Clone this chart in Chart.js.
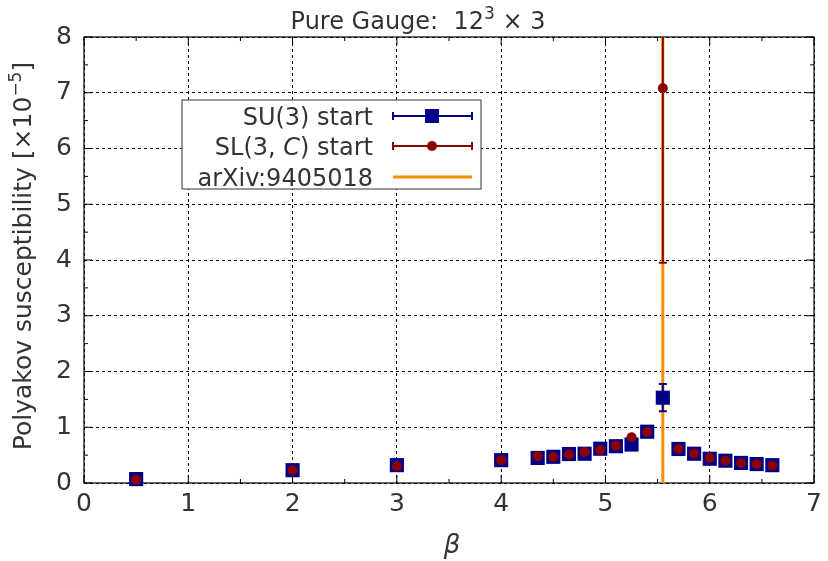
<!DOCTYPE html>
<html>
<head>
<meta charset="utf-8">
<script src="https://cdn.jsdelivr.net/npm/chart.js@4/dist/chart.umd.min.js"></script>
<style>
  html, body { margin: 0; padding: 0; background: #fff; }
  #wrap { width: 828px; height: 561px; }
</style>
</head>
<body>
<div id="wrap"><canvas id="chart" width="828" height="561"></canvas></div>
<script>
// valores
const beta = [0.5, 2, 3, 4, 4.35, 4.5, 4.65, 4.8, 4.95, 5.1, 5.25, 5.4, 5.55, 5.7, 5.85, 6.0, 6.15, 6.3, 6.45, 6.6];
const chiSU3 = [0.07, 0.23, 0.32, 0.41, 0.45, 0.47, 0.52, 0.525, 0.615, 0.66, 0.69, 0.92, 1.53, 0.61, 0.525, 0.435, 0.40, 0.36, 0.34, 0.32];
const errSU3 = [0.01, 0.01, 0.01, 0.01, 0.01, 0.01, 0.01, 0.01, 0.02, 0.02, 0.02, 0.03, 0.245, 0.02, 0.01, 0.01, 0.01, 0.01, 0.01, 0.01];
const chiSL3 = [0.06, 0.23, 0.30, 0.41, 0.48, 0.465, 0.51, 0.555, 0.59, 0.67, 0.82, 0.915, 7.08, 0.61, 0.53, 0.45, 0.40, 0.36, 0.34, 0.31];
const errSL3 = [0.01, 0.01, 0.01, 0.01, 0.01, 0.01, 0.01, 0.01, 0.02, 0.02, 0.02, 0.03, 3.13, 0.02, 0.01, 0.01, 0.01, 0.01, 0.01, 0.01];
const betaCrit = [5.55, 5.55];
const critLine = [0, 8];
const xTicks = [0, 1, 2, 3, 4, 5, 6, 7];
const yTicks = [0, 1, 2, 3, 4, 5, 6, 7, 8];

const FONT = '"DejaVu Sans", sans-serif';
const TXT = '#333';
const BLUE = '#00008b';
const RED = '#8b0000';
const ORANGE = '#ff8c00';

// texto con trozos (superíndices, cursivas)
function richText(ctx, parts, x, y, align) {
  let w = 0;
  parts.forEach(p => { ctx.font = p.font; w += ctx.measureText(p.t).width; });
  let cx = align === 'right' ? x - w : align === 'center' ? x - w / 2 : x;
  ctx.textBaseline = 'alphabetic';
  ctx.textAlign = 'left';
  parts.forEach(p => {
    ctx.font = p.font;
    ctx.fillText(p.t, cx, y + (p.dy || 0));
    cx += ctx.measureText(p.t).width;
  });
}

const frameAndTicks = {
  id: 'frameAndTicks',
  beforeDatasetsDraw(chart) {
    const { ctx, chartArea: a, scales: { x, y } } = chart;
    ctx.save();
    ctx.strokeStyle = '#000';
    ctx.lineWidth = 1.2;
    ctx.strokeRect(a.left, a.top, a.right - a.left, a.bottom - a.top);
    ctx.lineWidth = 1;
    ctx.beginPath();
    for (let v = 0; v <= 7; v += 0.5) {
      const px = x.getPixelForValue(v);
      const len = Number.isInteger(v) ? 8 : 4;
      ctx.moveTo(px, a.bottom); ctx.lineTo(px, a.bottom - len);
      ctx.moveTo(px, a.top); ctx.lineTo(px, a.top + len);
    }
    for (let v = 0; v <= 8; v += 0.5) {
      const py = y.getPixelForValue(v);
      const len = Number.isInteger(v) ? 8 : 4;
      ctx.moveTo(a.left, py); ctx.lineTo(a.left + len, py);
      ctx.moveTo(a.right, py); ctx.lineTo(a.right - len, py);
    }
    ctx.stroke();
    ctx.restore();
  }
};

// barras de error: se dibujan antes de los puntos de cada serie
const errorBars = {
  id: 'errorBars',
  beforeDatasetDraw(chart, args) {
    const ds = chart.data.datasets[args.index];
    if (!ds.errors) return;
    const { ctx, chartArea: a, scales: { x, y } } = chart;
    ctx.save();
    ctx.beginPath();
    ctx.rect(a.left, a.top, a.right - a.left, a.bottom - a.top + 20);
    ctx.clip();
    ctx.strokeStyle = ds.backgroundColor;
    ctx.lineWidth = 2;
    ds.data.forEach((p, i) => {
      const e = ds.errors[i];
      const px = x.getPixelForValue(p.x);
      const lo = y.getPixelForValue(p.y - e);
      const hi = y.getPixelForValue(p.y + e);
      ctx.beginPath();
      ctx.moveTo(px, lo); ctx.lineTo(px, hi);
      ctx.moveTo(px - 4, lo); ctx.lineTo(px + 4, lo);
      ctx.moveTo(px - 4, hi); ctx.lineTo(px + 4, hi);
      ctx.stroke();
    });
    ctx.restore();
  }
};

const labels = {
  id: 'labels',
  afterDraw(chart) {
    const { ctx } = chart;
    ctx.save();
    ctx.fillStyle = TXT;
    // título
    richText(ctx, [
      { t: 'Pure Gauge:  12', font: '24px ' + FONT },
      { t: '3', font: '17px ' + FONT, dy: -10 },
      { t: ' \u00d7 3', font: '24px ' + FONT }
    ], 418, 29, 'center');
    // eje x
    ctx.font = 'italic 26px ' + FONT;
    ctx.textAlign = 'center';
    ctx.textBaseline = 'alphabetic';
    ctx.fillText('\u03b2', 452, 553);
    // eje y
    ctx.translate(31, 256);
    ctx.rotate(-Math.PI / 2);
    richText(ctx, [
      { t: 'Polyakov susceptibility [\u00d710', font: '25px ' + FONT },
      { t: '\u22125', font: '17px ' + FONT, dy: -10 },
      { t: ']', font: '25px ' + FONT }
    ], 0, 0, 'center');
    ctx.restore();

    // leyenda
    ctx.save();
    const lx = 182, ly = 100, lw = 299, lh = 89;
    ctx.fillStyle = '#fff';
    ctx.fillRect(lx, ly, lw, lh);
    ctx.strokeStyle = '#333';
    ctx.lineWidth = 1;
    ctx.strokeRect(lx, ly, lw, lh);
    ctx.fillStyle = TXT;
    const rows = [116, 146, 177];
    const f = '24px ' + FONT;
    richText(ctx, [{ t: 'SU(3) start', font: f }], 373, rows[0] + 9, 'right');
    richText(ctx, [
      { t: 'SL(3, ', font: f },
      { t: 'C', font: 'italic 24px ' + FONT },
      { t: ') start', font: f }
    ], 373, rows[1] + 9, 'right');
    richText(ctx, [{ t: 'arXiv:9405018', font: f }], 373, rows[2] + 9, 'right');

    const s0 = 393, s1 = 472, sc = 432;
    [[rows[0], BLUE], [rows[1], RED]].forEach(([ry, c]) => {
      ctx.strokeStyle = c;
      ctx.lineWidth = 2;
      ctx.beginPath();
      ctx.moveTo(s0, ry); ctx.lineTo(s1, ry);
      ctx.moveTo(s0, ry - 4); ctx.lineTo(s0, ry + 4);
      ctx.moveTo(s1, ry - 4); ctx.lineTo(s1, ry + 4);
      ctx.stroke();
    });
    ctx.fillStyle = BLUE;
    ctx.fillRect(sc - 7, rows[0] - 7, 14, 14);
    ctx.fillStyle = RED;
    ctx.beginPath();
    ctx.arc(sc, rows[1], 5, 0, Math.PI * 2);
    ctx.fill();
    ctx.strokeStyle = ORANGE;
    ctx.lineWidth = 3;
    ctx.beginPath();
    ctx.moveTo(s0, rows[2]); ctx.lineTo(s1, rows[2]);
    ctx.stroke();
    ctx.restore();
  }
};

const ctx = document.getElementById('chart');
new Chart(ctx, {
  type: 'scatter',
  data: {
    datasets: [
      {
        label: 'SL(3, C) start',
        data: beta.map((b, i) => ({ x: b, y: chiSL3[i] })),
        errors: errSL3,
        backgroundColor: RED,
        borderColor: RED,
        pointStyle: 'circle',
        pointRadius: 5,
        pointBorderWidth: 0,
        clip: false,
        order: 0
      },
      {
        label: 'SU(3) start',
        data: beta.map((b, i) => ({ x: b, y: chiSU3[i] })),
        errors: errSU3,
        backgroundColor: BLUE,
        borderColor: BLUE,
        pointStyle: 'rect',
        pointRadius: 10,
        pointBorderWidth: 0,
        clip: false,
        order: 1
      },
      {
        type: 'line',
        label: 'arXiv:9405018',
        data: betaCrit.map((b, i) => ({ x: b, y: critLine[i] })),
        borderColor: ORANGE,
        borderWidth: 3,
        pointRadius: 0,
        order: 2
      }
    ]
  },
  options: {
    responsive: false,
    animation: false,
    layout: { padding: { top: 37, right: 7, left: 0, bottom: 0 } },
    plugins: {
      legend: { display: false },
      tooltip: { enabled: false },
      title: { display: false }
    },
    scales: {
      x: {
        type: 'linear',
        min: 0, max: 7,
        afterBuildTicks: s => { s.ticks = xTicks.map(v => ({ value: v })); },
        afterFit: s => { s.height = 78; },
        ticks: { color: TXT, font: { family: FONT, size: 25 }, padding: 6 },
        grid: { color: '#000', lineWidth: 1, drawTicks: false },
        border: { display: false, dash: [3, 3] }
      },
      y: {
        type: 'linear',
        min: 0, max: 8,
        afterBuildTicks: s => { s.ticks = yTicks.map(v => ({ value: v })); },
        afterFit: s => { s.width = 84; },
        ticks: { color: TXT, font: { family: FONT, size: 25 }, padding: 12 },
        grid: { color: '#000', lineWidth: 1, drawTicks: false },
        border: { display: false, dash: [3, 3] }
      }
    }
  },
  plugins: [frameAndTicks, errorBars, labels]
});
</script>
</body>
</html>
